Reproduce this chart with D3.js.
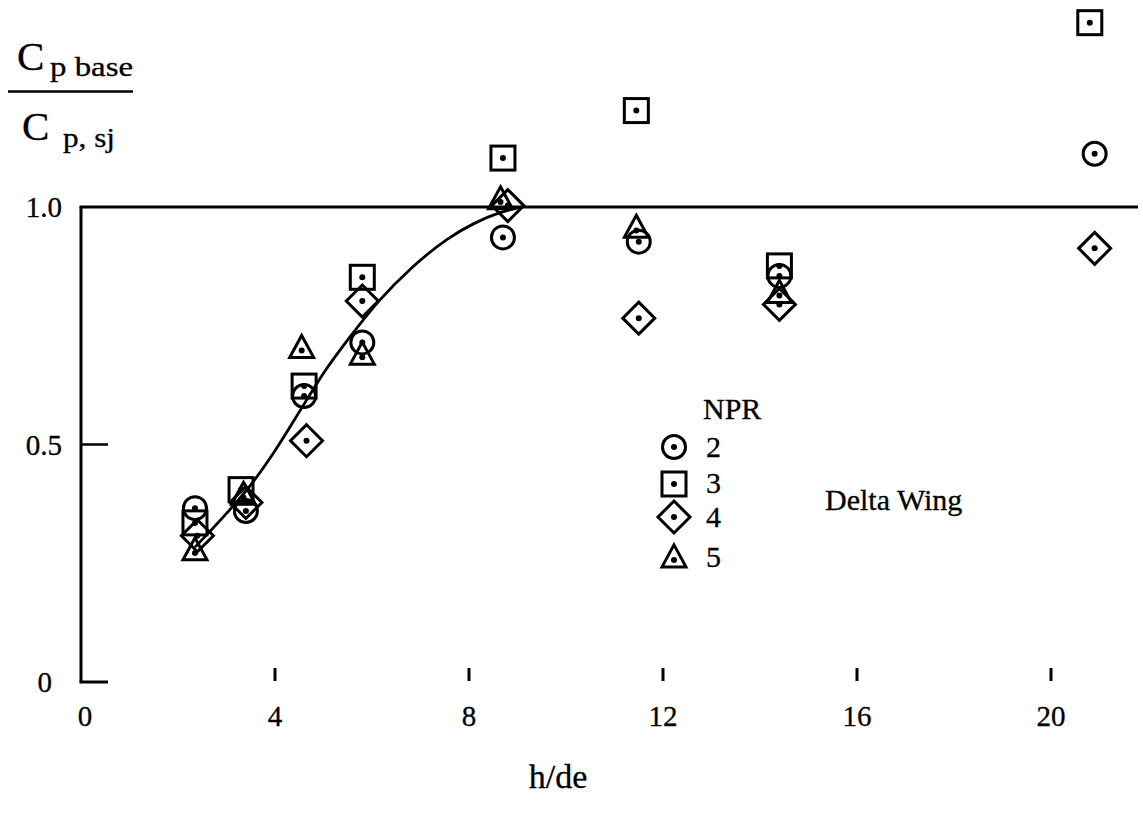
<!DOCTYPE html>
<html>
<head>
<meta charset="utf-8">
<script src="https://cdn.jsdelivr.net/npm/d3@7"></script>
<style>
  html, body { margin: 0; padding: 0; background: #fff; }
  svg text { font-family: "Liberation Serif", "Times New Roman", serif; fill: #000; stroke: #000; stroke-width: 0.3px; }
</style>
</head>
<body>
<svg id="chart" width="1143" height="817"></svg>
<script>
// Base pressure ratio vs. nozzle height, delta wing, four nozzle pressure ratios
const hNpr2 = [2.35, 3.4, 4.6, 5.8, 8.7, 11.5, 14.4, 20.9];
const vNpr2 = [0.366, 0.360, 0.602, 0.715, 0.936, 0.927, 0.855, 1.112];

const hNpr3 = [2.35, 3.3, 4.6, 5.8, 8.7, 11.45, 14.4, 20.8];
const vNpr3 = [0.335, 0.405, 0.623, 0.852, 1.103, 1.203, 0.876, 1.388];

const hNpr4 = [2.4, 3.4, 4.65, 5.8, 8.8, 11.5, 14.4, 20.9];
const vNpr4 = [0.308, 0.378, 0.508, 0.802, 1.003, 0.766, 0.795, 0.913];

const hNpr5 = [2.35, 3.35, 4.55, 5.8, 8.65, 11.45, 14.4];
const vNpr5 = [0.278, 0.395, 0.704, 0.690, 1.017, 0.957, 0.820];

// Faired trend curve
const curveH = [2.35, 3.0, 3.5, 4.0, 4.6, 5.0, 5.55, 6.16, 6.8, 7.55, 8.1, 8.64, 9.1];
const curveV = [0.284, 0.355, 0.415, 0.487, 0.585, 0.65, 0.727, 0.804, 0.87, 0.932, 0.965, 0.988, 1.0];

const xTicks = [0, 4, 8, 12, 16, 20];
const xTickLabels = ["0", "4", "8", "12", "16", "20"];
const yTicks = [0, 0.5, 1.0];
const yTickLabels = ["0", "0.5", "1.0"];

const legendNames = ["2", "3", "4", "5"];
const legendShapes = ["circle", "square", "diamond", "triangle"];

const svg = d3.select("#chart");
const x = d3.scaleLinear().domain([0, 20]).range([81, 1051]);
const y = d3.scaleLinear().domain([0, 1]).range([682, 207]);
const SW = 3;

// Axes frame: vertical axis, short baseline stub, reference line at 1.0
svg.append("line").attr("x1", x(0)).attr("x2", x(0)).attr("y1", y(1)).attr("y2", y(0))
  .attr("stroke", "#000").attr("stroke-width", 3);
svg.append("line").attr("x1", x(0) - 1.5).attr("x2", 108).attr("y1", y(0)).attr("y2", y(0))
  .attr("stroke", "#000").attr("stroke-width", 3);
svg.append("line").attr("x1", x(0) - 1.5).attr("x2", 1138).attr("y1", y(1)).attr("y2", y(1))
  .attr("stroke", "#000").attr("stroke-width", 3);
// 0.5 tick
svg.append("line").attr("x1", x(0)).attr("x2", 108).attr("y1", y(0.5)).attr("y2", y(0.5))
  .attr("stroke", "#000").attr("stroke-width", 2.5);

// x ticks: detached short marks above the baseline
svg.selectAll(".xt").data(xTicks.filter(d => d > 0)).enter().append("line")
  .attr("x1", d => x(d)).attr("x2", d => x(d))
  .attr("y1", y(0) - 14).attr("y2", y(0) - 1)
  .attr("stroke", "#000").attr("stroke-width", 3);

svg.selectAll(".xl").data(xTicks).enter().append("text")
  .attr("x", d => x(d) + (d === 0 ? 4 : 0))
  .attr("y", 726)
  .attr("text-anchor", "middle")
  .attr("font-size", 29)
  .text((d, i) => xTickLabels[i]);

svg.selectAll(".yl").data(yTicks).enter().append("text")
  .attr("x", d => d === 0 ? 52 : 62)
  .attr("y", d => y(d) + 10)
  .attr("text-anchor", "end")
  .attr("font-size", 29)
  .text((d, i) => yTickLabels[i]);

// Axis titles
const yTitle = svg.append("g");
yTitle.append("text").attr("x", 17).attr("y", 70).attr("font-size", 41).text("C");
yTitle.append("text").attr("x", 50).attr("y", 76).attr("font-size", 27)
  .attr("textLength", 83).attr("lengthAdjust", "spacingAndGlyphs").text("p base");
yTitle.append("line").attr("x1", 8).attr("x2", 133).attr("y1", 91.5).attr("y2", 91.5)
  .attr("stroke", "#000").attr("stroke-width", 2.5);
yTitle.append("text").attr("x", 22).attr("y", 140).attr("font-size", 41).text("C");
yTitle.append("text").attr("x", 63).attr("y", 147).attr("font-size", 27)
  .attr("textLength", 52).attr("lengthAdjust", "spacingAndGlyphs").text("p, sj");

svg.append("text").attr("x", 558).attr("y", 788).attr("text-anchor", "middle")
  .attr("font-size", 34).text("h/de");

// Trend curve
const line = d3.line().x(d => x(d[0])).y(d => y(d[1])).curve(d3.curveMonotoneX);
svg.append("path").datum(curveH.map((h, i) => [h, curveV[i]]))
  .attr("d", line).attr("fill", "none").attr("stroke", "#000").attr("stroke-width", 2.8);

// Marker drawing
function marker(g, shape, cx, cy) {
  let dotY = cy;
  if (shape === "circle") {
    g.append("circle").attr("cx", cx).attr("cy", cy).attr("r", 11.5);
  } else if (shape === "square") {
    g.append("rect").attr("x", cx - 12).attr("y", cy - 12).attr("width", 24).attr("height", 24);
  } else if (shape === "diamond") {
    const r = 16;
    g.append("path").attr("d", `M${cx},${cy - r}L${cx + r},${cy}L${cx},${cy + r}L${cx - r},${cy}Z`);
  } else if (shape === "triangle") {
    const w = 12, ht = 22;
    g.append("path").attr("d", `M${cx},${cy - ht * 0.55}L${cx + w},${cy + ht * 0.45}L${cx - w},${cy + ht * 0.45}Z`);
    dotY = cy + 3;
  }
  g.selectAll("circle,rect,path").attr("fill", "none").attr("stroke", "#000")
    .attr("stroke-width", SW).attr("stroke-linejoin", "miter");
  g.append("circle").attr("cx", cx).attr("cy", dotY).attr("r", 3).attr("fill", "#000").attr("stroke", "none");
}

const seriesList = [
  { shape: "circle", h: hNpr2, v: vNpr2 },
  { shape: "square", h: hNpr3, v: vNpr3 },
  { shape: "diamond", h: hNpr4, v: vNpr4 },
  { shape: "triangle", h: hNpr5, v: vNpr5 }
];
seriesList.forEach(s => {
  s.h.forEach((h, i) => {
    marker(svg.append("g"), s.shape, x(h), y(s.v[i]));
  });
});

// Legend
svg.append("text").attr("x", 703).attr("y", 419).attr("font-size", 30).text("NPR");
const legY = [447, 484, 517, 557];
const legTextY = [457, 493, 527, 567];
legendShapes.forEach((shape, i) => {
  marker(svg.append("g"), shape, 674, legY[i]);
  svg.append("text").attr("x", 706).attr("y", legTextY[i]).attr("font-size", 30).text(legendNames[i]);
});

svg.append("text").attr("x", 825).attr("y", 510).attr("font-size", 30).text("Delta Wing");
</script>
</body>
</html>
